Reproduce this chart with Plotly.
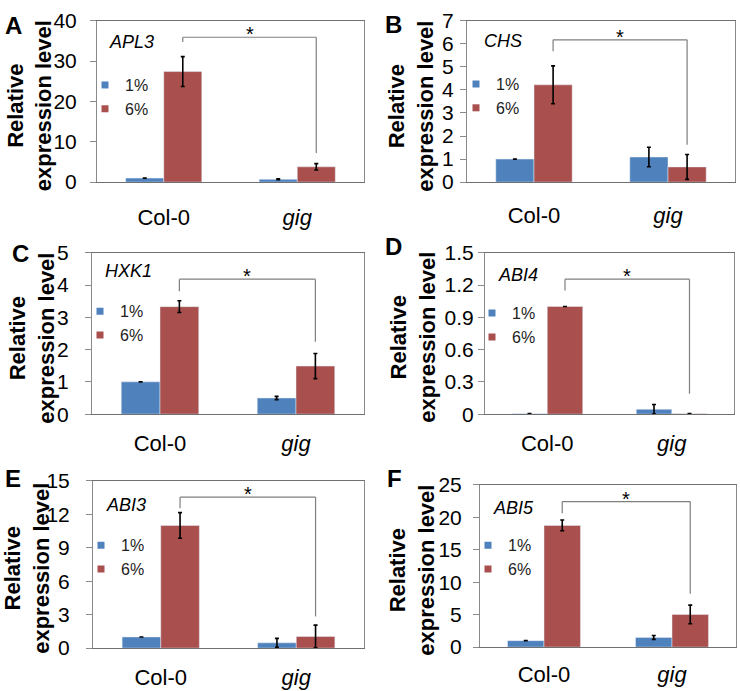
import plotly.graph_objects as go

W, H = 740, 691

# ---------------- data ----------------
categories = ["Col-0", "gig"]
category_labels = ["Col-0", "<i>gig</i>"]
series_names = ["1%", "6%"]
genes = ["APL3", "CHS", "HXK1", "ABI4", "ABI3", "ABI5"]
letters = ["A", "B", "C", "D", "E", "F"]

one_pct = [[1.0, 0.70], [1.0, 1.09], [1.0, 0.50], [0.003, 0.045], [1.0, 0.47], [1.0, 1.50]]
one_pct_err = [[None, 0.10], [None, 0.42], [None, 0.05], [0.003, 0.045], [None, 0.40], [None, 0.30]]
six_pct = [[27.4, 3.8], [4.22, 0.66], [3.33, 1.49], [1.0, 0.003], [11.0, 1.04], [18.74, 5.03]]
six_pct_err = [[3.7, 0.8], [0.82, 0.54], [0.18, 0.39], [None, 0.003], [1.15, 1.02], [0.83, 1.44]]

y_max = [40, 7, 5, 1.5, 15, 25]
y_step = [10, 1, 1, 0.3, 3, 5]

bracket_top = [35.9, 6.17, 4.18, 1.254, 13.55, 22.4]
bracket_left_end = [34.7, 5.67, 3.81, 1.15, 12.54, 20.6]
bracket_right_end = [7.2, 1.62, 2.24, 0.19, 2.84, 8.2]

# ---------------- layout (pixels) ----------------
boxes = [(97, 364, 9, 176), (467, 735, 9, 176), (92, 364, 249, 416),
         (485, 734, 249, 416), (93, 364, 485, 658), (480, 736, 489, 657)]
ylabel_gap = [9, 2, 12, 0, 12, 7]
xlabel_gap = [15, 13, 9, 9, 10, 7]
ytitle_pos = [(29.5, 97), (411, 98), (32, 338), (413, 337), (27, 576), (412, 578)]
letter_pos = [(3, 13.5), (383, 12.5), (10, 249.5), (383, 242.5), (3, 482.5), (385, 482.5)]
gene_pos = [(107, 31), (482, 30), (103, 268), (496, 272), (104, 510), (491, 513)]
legend_pos = [(113, 76), (484, 75), (108, 310), (500, 312), (109, 552), (496, 552)]

BLUE = "#4F81BD"
RED = "#A9504E"
BARGAP = 0.43
FONT = "Liberation Sans, Arial, sans-serif"

fig = go.Figure()
layout = {}
shapes = []
annotations = []

for i in range(6):
    n = "" if i == 0 else str(i + 1)
    xa, ya = "x" + n, "y" + n
    leg = "legend" + n
    x0, x1, y0, y1 = boxes[i]

    fig.add_trace(go.Bar(
        x=categories, y=one_pct[i], name=series_names[0], marker_color=BLUE,
        error_y=dict(type="data", array=one_pct_err[i], visible=True,
                     color="black", thickness=1.6, width=2),
        xaxis=xa, yaxis=ya, showlegend=False))
    fig.add_trace(go.Bar(
        x=categories, y=six_pct[i], name=series_names[1], marker_color=RED,
        error_y=dict(type="data", array=six_pct_err[i], visible=True,
                     color="black", thickness=1.6, width=2),
        xaxis=xa, yaxis=ya, showlegend=False))
    for nm, col in zip(series_names, [BLUE, RED]):
        fig.add_trace(go.Scatter(
            x=[None], y=[None], mode="markers", name=nm,
            marker=dict(symbol="square", size=7, color=col),
            xaxis=xa, yaxis=ya, legend=leg, showlegend=True))

    nt = int(round(y_max[i] / y_step[i]))
    tv = [round(k * y_step[i], 3) for k in range(nt + 1)]
    tt = ["{:g}".format(v) for v in tv]

    layout["xaxis" + n] = dict(
        domain=[x0 / W, x1 / W], anchor=ya, type="category", range=[-0.5, 1.5],
        tickvals=categories, ticktext=category_labels,
        tickfont=dict(size=22, color="black", family=FONT),
        showline=True, mirror=True, linecolor="#707070", linewidth=1,
        ticks="", showgrid=False, zeroline=False, ticklabelstandoff=xlabel_gap[i])
    layout["yaxis" + n] = dict(
        domain=[1 - y1 / H, 1 - y0 / H], anchor=xa, range=[0, y_max[i]],
        tickvals=tv, ticktext=tt,
        tickfont=dict(size=21, color="black", family=FONT),
        showline=True, mirror=True, linecolor="#8a8a8a", linewidth=1,
        ticks="outside", ticklen=6, tickcolor="#8a8a8a",
        showgrid=False, zeroline=False, ticklabelstandoff=ylabel_gap[i])

    # significance bracket
    off = (1 - BARGAP) / 4
    xl, xr = 0 + off, 1 + off
    line = dict(color="#7f7f7f", width=1.2)
    shapes.append(dict(type="line", xref=xa, yref=ya, x0=xl, x1=xl,
                       y0=bracket_left_end[i], y1=bracket_top[i], line=line))
    shapes.append(dict(type="line", xref=xa, yref=ya, x0=xl, x1=xr,
                       y0=bracket_top[i], y1=bracket_top[i], line=line))
    shapes.append(dict(type="line", xref=xa, yref=ya, x0=xr, x1=xr,
                       y0=bracket_right_end[i], y1=bracket_top[i], line=line))
    annotations.append(dict(
        x=(xl + xr) / 2, y=bracket_top[i], xref=xa, yref=ya, text="*",
        showarrow=False, xanchor="center", yanchor="middle", yshift=3,
        font=dict(size=20, color="black", family=FONT)))

    # gene name
    gx, gy = gene_pos[i]
    annotations.append(dict(
        x=gx / W, y=1 - gy / H, xref="paper", yref="paper",
        text="<i>" + genes[i] + "</i>", showarrow=False,
        xanchor="left", yanchor="middle",
        font=dict(size=18, color="black", family=FONT)))

    # panel letter
    lx, ly = letter_pos[i]
    annotations.append(dict(
        x=lx / W, y=1 - ly / H, xref="paper", yref="paper",
        text="<b>" + letters[i] + "</b>", showarrow=False,
        xanchor="left", yanchor="middle",
        font=dict(size=24, color="black", family=FONT)))

    # y title
    tx, ty = ytitle_pos[i]
    annotations.append(dict(
        x=tx / W, y=1 - ty / H, xref="paper", yref="paper",
        text="<b>Relative<br>expression level</b>", showarrow=False,
        textangle=-90, xanchor="center", yanchor="middle",
        font=dict(size=22, color="black", family=FONT)))

    # legend
    sx, sy = legend_pos[i]
    layout[leg] = dict(
        x=(sx - 28) / W, y=1 - (sy - 18) / H, xanchor="left", yanchor="top",
        bgcolor="rgba(0,0,0,0)", borderwidth=0,
        font=dict(size=16, color="#222222", family=FONT),
        tracegroupgap=0, itemwidth=30)

fig.update_layout(
    width=W, height=H, margin=dict(l=0, r=0, t=0, b=0),
    paper_bgcolor="white", plot_bgcolor="white",
    barmode="group", bargap=BARGAP, bargroupgap=0,
    font=dict(family=FONT, color="black"),
    shapes=shapes, annotations=annotations, **layout)

fig.write_html("out.html", config={"displayModeBar": False},
               post_script="document.body.style.margin='0px';")
